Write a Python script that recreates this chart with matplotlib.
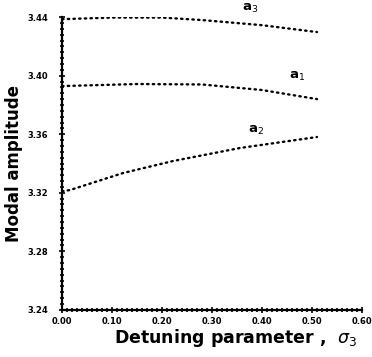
import matplotlib.pyplot as plt
from matplotlib.ticker import MultipleLocator

# detuning parameter sigma_3 and modal amplitudes
sigma_a3 = [0.00, 0.10, 0.20, 0.28, 0.40, 0.51]
amp_a3 = [3.4386, 3.4397, 3.4397, 3.4380, 3.4345, 3.4298]

sigma_a1 = [0.00, 0.15, 0.28, 0.40, 0.51]
amp_a1 = [3.3929, 3.3943, 3.3940, 3.3902, 3.3840]

sigma_a2 = [0.00, 0.016, 0.122, 0.222, 0.356, 0.51]
amp_a2 = [3.3210, 3.3219, 3.3335, 3.3417, 3.3506, 3.3581]

xticks = [0.0, 0.1, 0.2, 0.3, 0.4, 0.5, 0.6]
yticks = [3.24, 3.28, 3.32, 3.36, 3.40, 3.44]

fig = plt.figure(figsize=(3.72, 3.57), dpi=100)
ax = fig.add_axes([0.167, 0.132, 0.806, 0.820])

for xs, ys in ((sigma_a3, amp_a3), (sigma_a1, amp_a1), (sigma_a2, amp_a2)):
    ax.plot(xs, ys, color="black", lw=1.7, ls=(0, (0.6, 1.8)),
            dash_capstyle="round")

ax.text(0.36, 3.4440, r"a$_3$", fontsize=9.5, fontweight="bold")
ax.text(0.455, 3.3980, r"a$_1$", fontsize=9.5, fontweight="bold")
ax.text(0.372, 3.3610, r"a$_2$", fontsize=9.5, fontweight="bold")

ax.set_xlim(0, 0.6)
ax.set_ylim(3.24, 3.44)
ax.set_xticks(xticks)
ax.set_xticklabels([f"{v:.2f}" for v in xticks])
ax.set_yticks(yticks)
ax.set_yticklabels([f"{v:.2f}" for v in yticks])
ax.xaxis.set_minor_locator(MultipleLocator(0.01))
ax.yaxis.set_minor_locator(MultipleLocator(0.004))
ax.tick_params(which="both", direction="inout", width=1.2, labelsize=6)
ax.tick_params(which="major", length=4)
ax.tick_params(which="minor", length=2.5)
ax.tick_params(axis="x", which="major", pad=3)
ax.tick_params(axis="y", which="major", pad=8)
for lab in ax.get_xticklabels() + ax.get_yticklabels():
    lab.set_fontweight("bold")

for side in ("top", "right"):
    ax.spines[side].set_visible(False)
for side in ("left", "bottom"):
    ax.spines[side].set_linewidth(1.6)

ax.set_ylabel("Modal amplitude", fontsize=12, fontweight="bold", labelpad=3)
ax.set_xlabel(r"Detuning parameter ,  $\sigma_3$", fontsize=12.5,
              fontweight="bold", labelpad=1, x=0.58)

fig.savefig("out.png", dpi=100)
